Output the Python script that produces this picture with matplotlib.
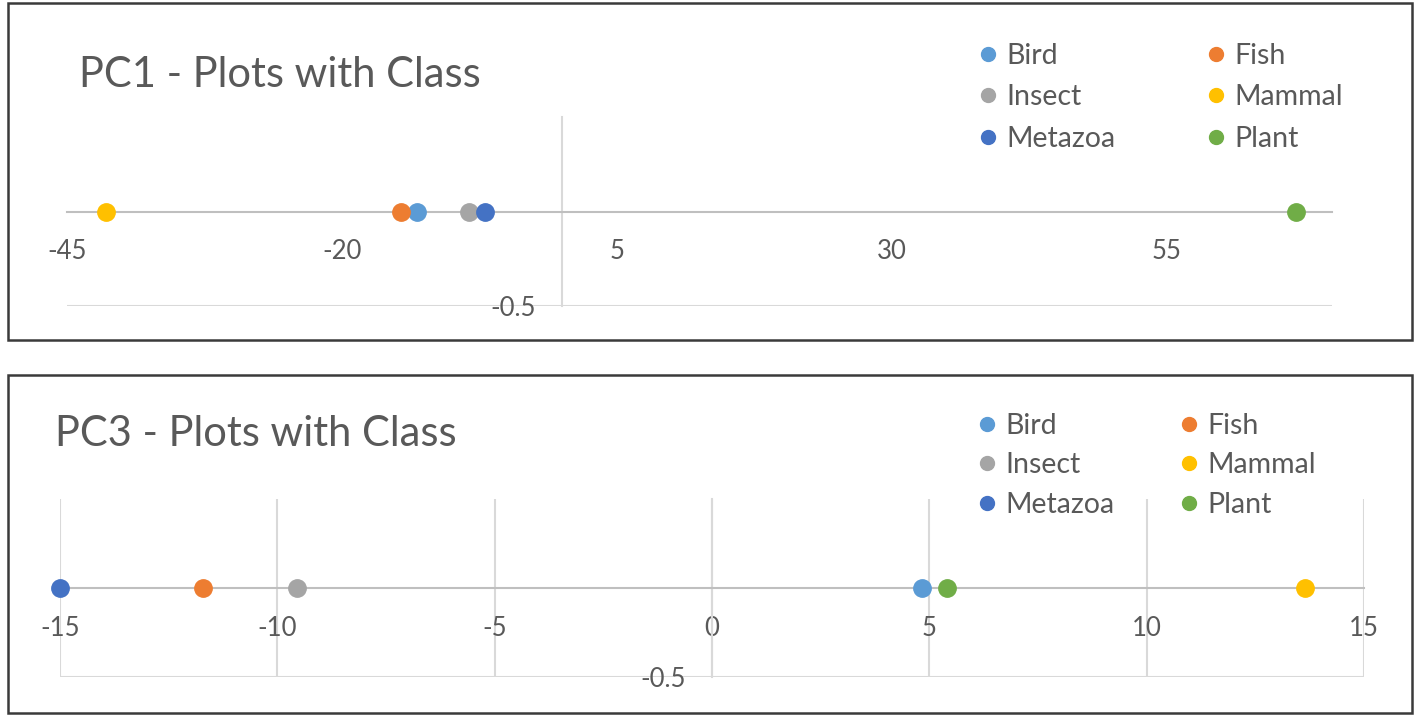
import matplotlib
matplotlib.use("Agg")
import matplotlib.pyplot as plt
from matplotlib.patches import Rectangle

plt.rcParams['font.family'] = ['Lato', 'DejaVu Sans']
plt.rcParams['axes.unicode_minus'] = False

# ------------------------------ data ------------------------------
classes = ["Bird", "Fish", "Insect", "Mammal", "Metazoa", "Plant"]
colors = ["#5B9BD5", "#ED7D31", "#A5A5A5", "#FFC000", "#4472C4", "#70AD47"]
pc1 = [-13.2, -14.6, -8.5, -41.5, -7.0, 66.7]
pc3 = [4.83, -11.7, -9.55, 13.65, -15.0, 5.4]
pc1_ticks = [-45, -20, 5, 30, 55]
pc3_ticks = [-15, -10, -5, 0, 5, 10, 15]
# ------------------------------------------------------------------

W, H = 1418, 720
TEXT = "#595959"
GRID = "#D9D9D9"
AXIS = "#BFBFBF"


def box(left, top, right, bottom):
    # pixel box (top-left origin) -> figure fraction rect
    return [left / W, 1 - bottom / H, (right - left) / W, (bottom - top) / H]


def panel(fig, rect, values, ticks, xlim, title, title_xy, leg_xy, colspace, rowspace, vgrid):
    ax = fig.add_axes(rect)
    for name, val, col in zip(classes, values, colors):
        ax.plot([val], [0], 'o', ms=12.5, color=col, label=name,
                clip_on=False, zorder=4)
    ax.set_xlim(*xlim)
    ax.set_ylim(-0.5, 0.5)

    for s in ["top", "right"]:
        ax.spines[s].set_visible(False)
    ax.spines["bottom"].set_position(("data", 0))
    ax.spines["bottom"].set_color(AXIS)
    ax.spines["bottom"].set_linewidth(1.5)
    ax.spines["left"].set_position(("data", 0))
    ax.spines["left"].set_color(GRID)
    ax.spines["left"].set_linewidth(1.5)

    ax.set_xticks(ticks)
    ax.set_yticks([-0.5])
    ax.set_yticklabels(["-0.5"])
    ax.tick_params(axis="x", length=0, pad=20, labelsize=18.5, labelcolor=TEXT)
    ax.tick_params(axis="y", length=0, pad=19, labelsize=18.5, labelcolor=TEXT)
    ax.grid(axis="y", color=GRID, lw=1.5)
    if vgrid:
        ax.grid(axis="x", color=GRID, lw=1.5)
    ax.set_axisbelow(True)

    handles, labels = ax.get_legend_handles_labels()
    order = [0, 2, 4, 1, 3, 5]
    fig.legend([handles[i] for i in order], [labels[i] for i in order],
               ncol=2, loc="upper left",
               bbox_to_anchor=(leg_xy[0] / W, 1 - leg_xy[1] / H),
               frameon=False, fontsize=20.5, markerscale=0.8,
               handlelength=0.53, handletextpad=0.39, borderpad=0,
               borderaxespad=0, labelspacing=rowspace, columnspacing=colspace,
               labelcolor=TEXT)

    fig.text(title_xy[0] / W, 1 - title_xy[1] / H, title, fontsize=30,
             color=TEXT, ha="left", va="center")
    return ax


fig = plt.figure(figsize=(W / 100, H / 100), dpi=100)

# outer frames
fig.patches.append(Rectangle((8 / W, 1 - 340 / H), 1404 / W, 337 / H,
                             transform=fig.transFigure, fill=False,
                             ec="#3A3A3A", lw=1.8))
fig.patches.append(Rectangle((8 / W, 1 - 713 / H), 1404 / W, 338 / H,
                             transform=fig.transFigure, fill=False,
                             ec="#3A3A3A", lw=1.8))

panel(fig, box(67, 117, 1332, 306), pc1, pc1_ticks, (-45, 70),
      "PC1 - Plots with Class", (79, 75), (980.5, 42.5), 3.25, 0.55, False)
panel(fig, box(60, 499, 1364, 677), pc3, pc3_ticks, (-15, 15),
      "PC3 - Plots with Class", (55, 434), (979.5, 412.5), 2.34, 0.48, True)

fig.savefig("out.png", dpi=100)
